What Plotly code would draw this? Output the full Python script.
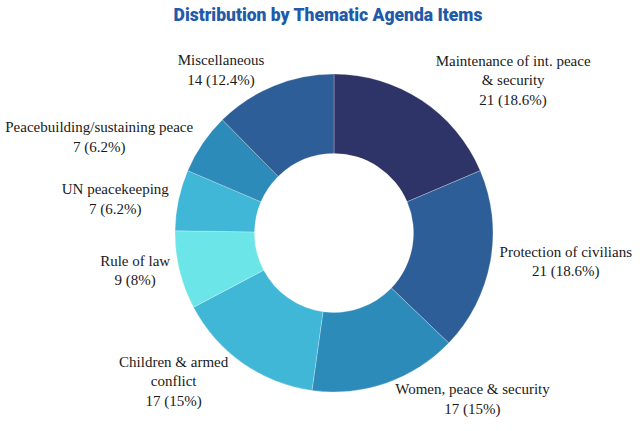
import plotly.graph_objects as go

labels = ["Maintenance of int. peace<br>& security", "Protection of civilians",
          "Women, peace & security", "Children & armed<br>conflict", "Rule of law",
          "UN peacekeeping", "Peacebuilding/sustaining peace", "Miscellaneous"]
values = [21, 21, 17, 17, 9, 7, 7, 14]
colors = ["#2F3468", "#2E5E98", "#2D8BBA", "#40B7D6", "#6CE5E8", "#40B7D6", "#2D8BBA", "#2E5E98"]

total = sum(values)
def fmt(v):
    s = f"{v / total * 100:.1f}"
    if s.endswith(".0"):
        s = s[:-2]
    return s + "%"
pcts = [fmt(v) for v in values]

fig = go.Figure(go.Pie(
    labels=labels, values=values, customdata=pcts,
    hole=0.5, sort=False, direction="clockwise", rotation=0,
    marker=dict(colors=colors, line=dict(color="rgba(255,255,255,0.5)", width=0.5)),
    textposition="outside",
    texttemplate="%{label}<br>%{value} (%{customdata})",
    textfont=dict(family="Liberation Serif", size=15, color="#1a1a1a"),
    showlegend=False,
))
fig.update_layout(
    width=640, height=431,
    margin=dict(l=173, r=147, t=73, b=38),
    paper_bgcolor="white",
    title=dict(text="Distribution by Thematic Agenda Items", x=328 / 640, xanchor="center",
               y=1 - 15 / 431, yanchor="middle", yref="container",
               font=dict(family="Roboto", size=17.5, weight=900, color="#1F5BA8")),
)
fig.write_html("out.html")
